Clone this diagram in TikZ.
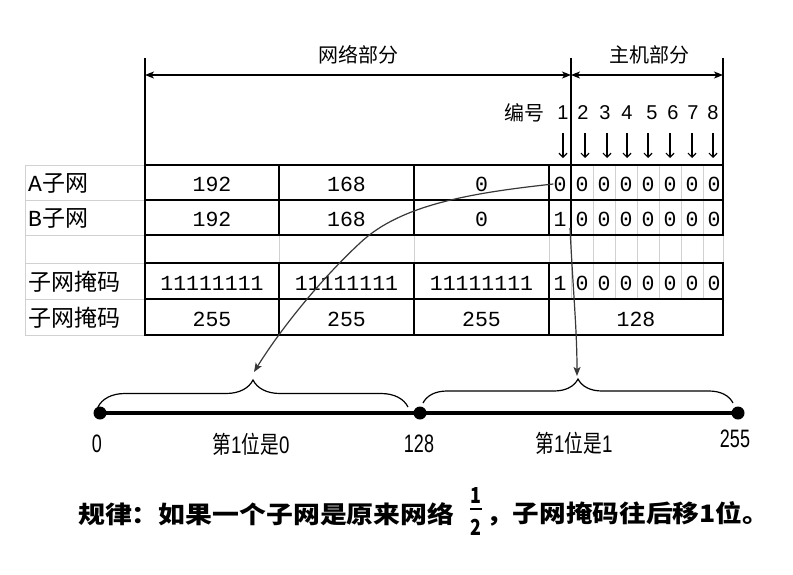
\documentclass[tikz,border=0pt]{standalone}
\usepackage{fontspec}
\setmainfont{Liberation Sans}
\setmonofont{Liberation Mono}
\newfontfamily\cjk{Noto Sans CJK SC}
\usetikzlibrary{arrows.meta,decorations.pathreplacing}
\begin{document}
\begin{tikzpicture}[x=1pt,y=-1pt,
  thk/.style={line width=2.8pt},
  grd/.style={draw=black!18, line width=0.8pt},
  hdr/.style={line width=1.5pt},
  dimarrow/.style={line width=1.2pt,{Stealth[length=9pt,width=7pt,inset=2.5pt]}-{Stealth[length=9pt,width=7pt,inset=2.5pt]}},
  downarrow/.style={line width=1.2pt,-{Straight Barb[length=4pt,width=8pt]}},
  curv/.style={draw=black!78,line width=1.2pt,-{Stealth[length=9pt,width=7pt,inset=2pt]}},
  cell/.style={inner sep=0pt,font=\fontsize{21.5}{22}\selectfont\ttfamily},
  lab/.style={inner sep=0pt,anchor=west,font=\fontsize{23}{24}\selectfont\cjk},
  head/.style={inner sep=0pt,font=\fontsize{20}{21}\selectfont\cjk},
  num/.style={inner sep=0pt,font=\fontsize{20}{21}\selectfont},
  axlab/.style={inner sep=0pt,font=\fontsize{24}{25}\selectfont},
  brc/.style={line width=1.2pt,decorate},
  rule/.style={inner sep=0pt,anchor=west,font=\fontsize{24}{25}\selectfont\cjk\bfseries},
  frac/.style={inner sep=0pt,font=\fontsize{21}{21}\selectfont\cjk\bfseries}
]
\useasboundingbox (0,0) rectangle (793,574);
\fill[white] (0,0) rectangle (793,574);

% ---- light grid lines ----
\draw[grd] (25,165) rectangle (145,335);
\foreach \yy in {200,235,263,299} \draw[grd] (25,\yy) -- (145,\yy);
\foreach \xx in {279,414,549,571,593,615,637,659,681,703,723} \draw[grd] (\xx,235) -- (\xx,263);
\foreach \xx in {593,615,637,659,681,703} \draw[grd] (\xx,165) -- (\xx,235);
\foreach \xx in {571,593,615,637,659,681,703} \draw[grd] (\xx,263) -- (\xx,299);

% ---- thick table lines ----
\draw[thk] (145,165) rectangle (723,235);
\draw[thk] (145,200) -- (723,200);
\foreach \xx in {279,414,549,571} \draw[thk] (\xx,165) -- (\xx,235);
\draw[thk] (145,263) rectangle (723,335);
\draw[thk] (145,299) -- (723,299);
\foreach \xx in {279,414,549} \draw[thk] (\xx,263) -- (\xx,335);
\draw[thk] (145,235) -- (145,263);

% ---- header ----
\coordinate (hl) at (145,58);
\coordinate (hm) at (571,58);
\coordinate (hr) at (723,58);
\draw[hdr] (hl) -- (145,165);
\draw[hdr] (hm) -- (571,165);
\draw[hdr] (hr) -- (723,165);
\coordinate (al) at (145,75);
\coordinate (am) at (571,75);
\coordinate (ar) at (723,75);
\draw[dimarrow] (al) -- (am);
\draw[dimarrow] (am) -- (ar);
\node[head] (net) at (358,55) {网络部分};
\node[head] (host) at (649,55) {主机部分};
\node[head] (bh) at (524,113) {编号};
\foreach \lbl/\xx/\ax in {1/563/563,2/583/585,3/605/607,4/627/627,5/652/648,6/673/670,7/693/692,8/713/713}{
  \node[num] (d\lbl) at (\xx,113) {\lbl};
  \coordinate (ds\lbl) at (\ax,133);
  \coordinate (de\lbl) at (\ax,158);
  \draw[downarrow] (ds\lbl) -- (de\lbl);
}

% ---- row labels ----
\node[lab] (lA) at (28,183) {\ttfamily A\cjk 子网};
\node[lab] (lB) at (28,218) {\ttfamily B\cjk 子网};
\node[lab] (lM) at (28,282) {子网掩码};
\node[lab] (lD) at (28,318) {子网掩码};

% ---- cells ----
\node[cell] (a192) at (212,184) {192};
\node[cell] (a168) at (346.5,184) {168};
\node[cell] (a0) at (481.5,184) {0};
\node[cell] (b192) at (212,219) {192};
\node[cell] (b168) at (346.5,219) {168};
\node[cell] (b0) at (481.5,219) {0};
\node[cell] (m1) at (212,283) {11111111};
\node[cell] (m2) at (346.5,283) {11111111};
\node[cell] (m3) at (481.5,283) {11111111};
\node[cell] (d255a) at (212,319) {255};
\node[cell] (d255b) at (346.5,319) {255};
\node[cell] (d255c) at (481.5,319) {255};
\node[cell] (d128) at (636,319) {128};
\foreach \i in {1,...,8}{
  \pgfmathsetmacro{\cx}{560+22*(\i-1)}
  \node[cell] (ab\i) at (\cx,184) {0};
  \node[cell] (mb\i) at (\cx,283) {\ifnum\i=1 1\else 0\fi};
  \node[cell] (bb\i) at (\cx,219) {\ifnum\i=1 1\else 0\fi};
}

% ---- number line ----
\coordinate (p0) at (100,413);
\coordinate (p128) at (420,413);
\coordinate (p255) at (738,413);
\draw[line width=4pt] (p0) -- (p255);
\foreach \p in {p0,p128,p255} \fill (\p) circle[radius=6.5pt];
\node[axlab] (t0) at (97,444) {\scalebox{0.75}[1.05]{0}};
\node[axlab] (t128) at (419,444) {\scalebox{0.75}[1.05]{128}};
\node[axlab] (t255) at (735,439) {\scalebox{0.75}[1.05]{255}};
\node[axlab] (s0) at (251,444) {\scalebox{0.78}[1]{\cjk 第\rmfamily 1\cjk 位是\rmfamily 0}};
\node[axlab] (s1) at (574,443) {\scalebox{0.78}[1]{\cjk 第\rmfamily 1\cjk 位是\rmfamily 1}};

% ---- braces ----
\draw[brc,decoration={brace,amplitude=27pt}] (98,407) -- (408,407);
\draw[brc,decoration={brace,amplitude=24pt}] (423,403) -- (733,403);
\coordinate (lbtip) at (254,372);
\coordinate (rbtip) at (577,376);
\coordinate (bstart) at (570,228);

% ---- curved arrows ----
\draw[curv] (ab1.west) .. controls (470,193) and (400,205) .. (360,243) .. controls (320,280) and (280,330) .. (lbtip);
\draw[curv] (bstart) .. controls (573,290) and (577,330) .. (rbtip);

% ---- rule ----
\node[rule] (r1) at (78,514) {\scalebox{1.12}[1]{规律：如果一个子网是原来网络}};
\node[frac] (f1) at (476,495) {\scalebox{0.85}[1.05]{1}};
\node[frac] (f2) at (476,527) {\scalebox{0.85}[1.05]{2}};
\draw[line width=2.4pt] (470,509) -- (482,509);
\node[rule] (r2) at (486,514) {\scalebox{1.11}[1]{，子网掩码往后移1位。}};
\end{tikzpicture}
\end{document}
